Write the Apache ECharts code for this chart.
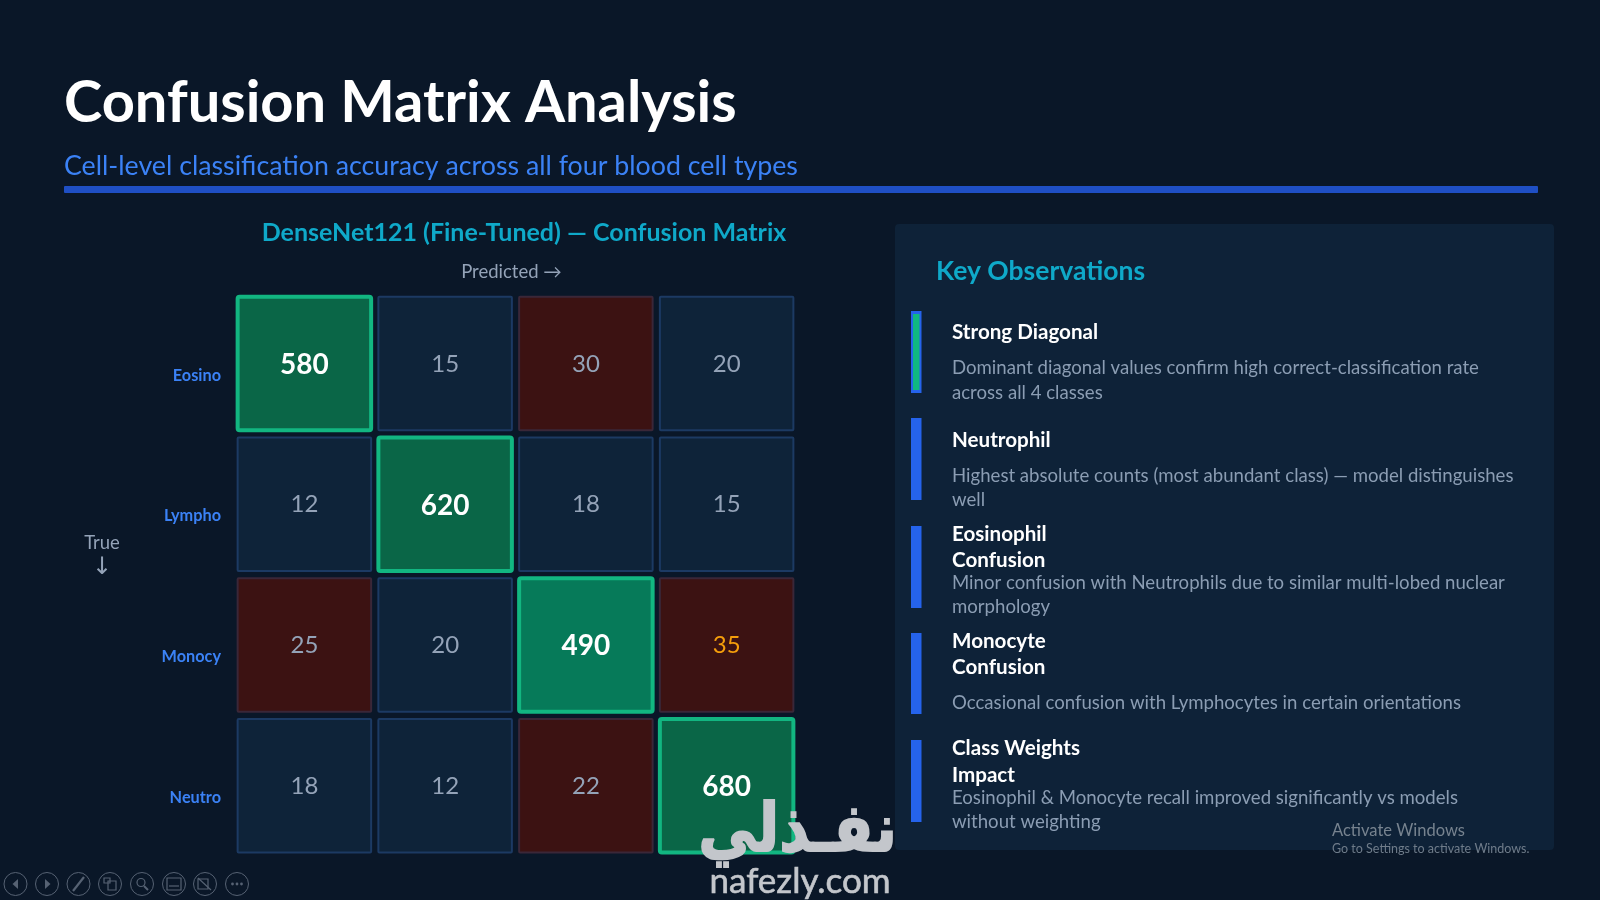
<!DOCTYPE html>
<html><head><meta charset="utf-8">
<style>html,body{margin:0;padding:0;background:#0a1628}#c{width:1600px;height:900px}</style>
<script src="https://cdn.jsdelivr.net/npm/echarts@6/dist/echarts.min.js"></script>
</head><body><div id="c"></div>
<script>
const predictedLabels = ['Eosino','Lympho','Monocy','Neutro'];
const trueLabels = ['Eosino','Lympho','Monocy','Neutro'];
const rowEosino = [580,15,30,20];
const rowLympho = [12,620,18,15];
const rowMonocy = [25,20,490,35];
const rowNeutro = [18,12,22,680];
const slideTitle = 'Confusion Matrix Analysis';
const slideSubtitle = 'Cell-level classification accuracy across all four blood cell types';
const chartTitle = 'DenseNet121 (Fine-Tuned) — Confusion Matrix';
const panelTitle = 'Key Observations';
const obsHeads = [['Strong Diagonal'],['Neutrophil'],['Eosinophil','Confusion'],['Monocyte','Confusion'],['Class Weights','Impact']];
const obsBodies = [
 ['Dominant diagonal values confirm high correct-classification rate','across all 4 classes'],
 ['Highest absolute counts (most abundant class) — model distinguishes','well'],
 ['Minor confusion with Neutrophils due to similar multi-lobed nuclear','morphology'],
 ['Occasional confusion with Lymphocytes in certain orientations'],
 ['Eosinophil & Monocyte recall improved significantly vs models','without weighting']
];

const FONT = 'Lato';
const rows = [rowEosino,rowLympho,rowMonocy,rowNeutro];
const cells = [];
rows.forEach((r,y)=>r.forEach((v,x)=>cells.push([x,y,v])));

function txt(x,y,text,size,color,weight,extra){
  return Object.assign({type:'text',x,y,z:20,silent:true,style:{text,fontFamily:FONT,fontSize:size,fill:color,fontWeight:weight||'normal',verticalAlign:'middle',align:'left'}},extra||{});
}
const g = [];
g.push({type:'rect',z:1,shape:{x:895,y:224,width:659,height:626,r:4},style:{fill:'#0e2238'}});
g.push({type:'rect',z:2,shape:{x:64,y:186,width:1474,height:7,r:1},style:{fill:'#1f4fc4'}});
g.push(txt(64,103,slideTitle,57.8,'#ffffff','bold'));
g.push(txt(64,166,slideSubtitle,26.75,'#3b82f6'));
g.push(txt(936,271.5,panelTitle,26.5,'#0fa9c9','bold'));
g.push(txt(102,543.5,'True',18.5,'#94a3b8','normal',{style:{text:'True',fontFamily:FONT,fontSize:18.5,fill:'#94a3b8',align:'center',verticalAlign:'middle'}}));
g.push(txt(102,568,'↓',22,'#94a3b8','normal',{style:{text:'↓',fontFamily:'DejaVu Sans',fontSize:24,fill:'#94a3b8',align:'center',verticalAlign:'middle'}}));
const barY=[[311,393],[418,500],[526,608],[633,714],[740,822]];
barY.forEach((b,i)=>{
  g.push({type:'rect',z:3,shape:{x:911,y:b[0],width:10.5,height:b[1]-b[0]},style:{fill:'#2563eb'}});
  if(i===0) g.push({type:'rect',z:4,shape:{x:913,y:b[0]+3,width:6.5,height:b[1]-b[0]-6},style:{fill:'#10b981'}});
});
const headY=[[332],[440],[534,560.5],[641,667.5],[748,775]];
const bodyY=[[368,392.5],[475.5,500],[582.5,606.5],[703],[797.5,821.5]];
obsHeads.forEach((ls,i)=>ls.forEach((t,j)=>g.push(txt(952,headY[i][j],t,20.6,'#ffffff','bold'))));
obsBodies.forEach((ls,i)=>ls.forEach((t,j)=>g.push(txt(952,bodyY[i][j],t,18.6,'#8b9db3'))));
g.push(txt(1332,830.5,'Activate Windows',16.5,'#77838f'));
g.push(txt(1332,849,'Go to Settings to activate Windows.',12.5,'#6f7c8a'));
// watermark
g.push({type:'text',x:897,y:834,z:30,scaleX:0.79,scaleY:0.9,silent:true,style:{text:'نفـذلي',fontFamily:'DejaVu Sans',fontSize:74,fontWeight:'bold',fill:'#c3c6cb',stroke:'#c3c6cb',lineWidth:2,align:'right',verticalAlign:'middle'}});
g.push({type:'text',x:800,y:882,z:30,silent:true,style:{text:'nafezly.com',fontFamily:'Lato',fontSize:35,fill:'#c3c6cb',stroke:'#c3c6cb',lineWidth:0.6,align:'center',verticalAlign:'middle'}});
// slideshow toolbar
const tx=[15.5,47,78.5,110,142,174,205,237], ty=884, tc='#566273';
tx.forEach(x=>g.push({type:'circle',z:5,shape:{cx:x,cy:ty,r:11.5},style:{fill:'none',stroke:tc,lineWidth:1}}));
const s=(o)=>Object.assign({z:6,style:{fill:'none',stroke:tc,lineWidth:1.2}},o);
g.push({type:'polygon',z:6,shape:{points:[[18,879],[18,889],[12.5,884]]},style:{fill:tc}});
g.push({type:'polygon',z:6,shape:{points:[[45,879],[45,889],[50.5,884]]},style:{fill:tc}});
g.push(s({type:'line',shape:{x1:73,y1:891,x2:84,y2:877},style:{stroke:tc,lineWidth:2.2}}));
g.push(s({type:'rect',shape:{x:104,y:878,width:6,height:5}}));
g.push(s({type:'rect',shape:{x:108,y:881,width:8,height:9}}));
g.push(s({type:'circle',shape:{cx:141,cy:882.5,r:4}}));
g.push(s({type:'line',shape:{x1:144,y1:886,x2:148,y2:890},style:{stroke:tc,lineWidth:2}}));
g.push(s({type:'rect',shape:{x:167,y:878,width:14,height:12}}));
g.push(s({type:'line',shape:{x1:169,y1:886,x2:179,y2:886}}));
g.push(s({type:'rect',shape:{x:198,y:879,width:10,height:10}}));
g.push(s({type:'line',shape:{x1:198,y1:878,x2:211,y2:890}}));
[232.5,237,241.5].forEach(x=>g.push({type:'circle',z:6,shape:{cx:x,cy:ty,r:1.4},style:{fill:tc}}));

function renderCell(params,api){
  const x=api.value(0), y=api.value(1), v=api.value(2);
  const c=api.coord([x,y]);
  const diag = x===y;
  const red = !diag && v>20;
  const w = 133.5, h=w;
  const fill = diag ? (v<500?'#067a59':'#0a6647') : red ? '#3c1212' : '#0e2339';
  const stroke = diag ? '#12b681' : red ? '#3a2738' : '#1c3a63';
  const lw = diag?4:2;
  const color = diag ? '#ffffff' : v>=35 ? '#f59e0b' : '#94a3b8';
  return {type:'group',children:[
    {type:'rect',shape:{x:c[0]-w/2,y:c[1]-h/2,width:w,height:h,r:diag?2:1},style:{fill,stroke,lineWidth:lw}},
    {type:'text',style:{x:c[0],y:c[1]+(diag?1.5:0.5),text:String(v),fontFamily:FONT,fontSize:diag?28:24,fontWeight:diag?'bold':'normal',fill:color,align:'center',verticalAlign:'middle'}}
  ]};
}
const chart=echarts.init(document.getElementById('c'),null,{renderer:'canvas',width:1600,height:900});
chart.setOption({
  animation:false,
  backgroundColor:'#0a1728',
  title:{text:chartTitle,left:519,top:215.5,textAlign:'center',textStyle:{fontFamily:FONT,fontSize:25,fontWeight:'bold',color:'#0fa9c9'}},
  grid:{left:234,top:293,width:563,height:563,containLabel:false},
  xAxis:{type:'category',data:predictedLabels,position:'top',axisLine:{show:false},axisTick:{show:false},axisLabel:{show:false},splitLine:{show:false},
    name:'Predicted →',nameLocation:'middle',nameGap:11,nameTextStyle:{fontFamily:FONT,fontSize:18.5,color:'#94a3b8',padding:[0,8,0,0]}},
  yAxis:{type:'category',data:trueLabels,inverse:true,axisLine:{show:false},axisTick:{show:false},splitLine:{show:false},
    axisLabel:{margin:13,fontFamily:FONT,fontWeight:'bold',fontSize:16.3,color:'#3b82f6',align:'right',verticalAlign:'top',lineHeight:24}},
  series:[{type:'custom',coordinateSystem:'cartesian2d',encode:{x:0,y:1},data:cells,renderItem:renderCell,silent:true,z:10}],
  graphic:{elements:g}
});
</script></body></html>
